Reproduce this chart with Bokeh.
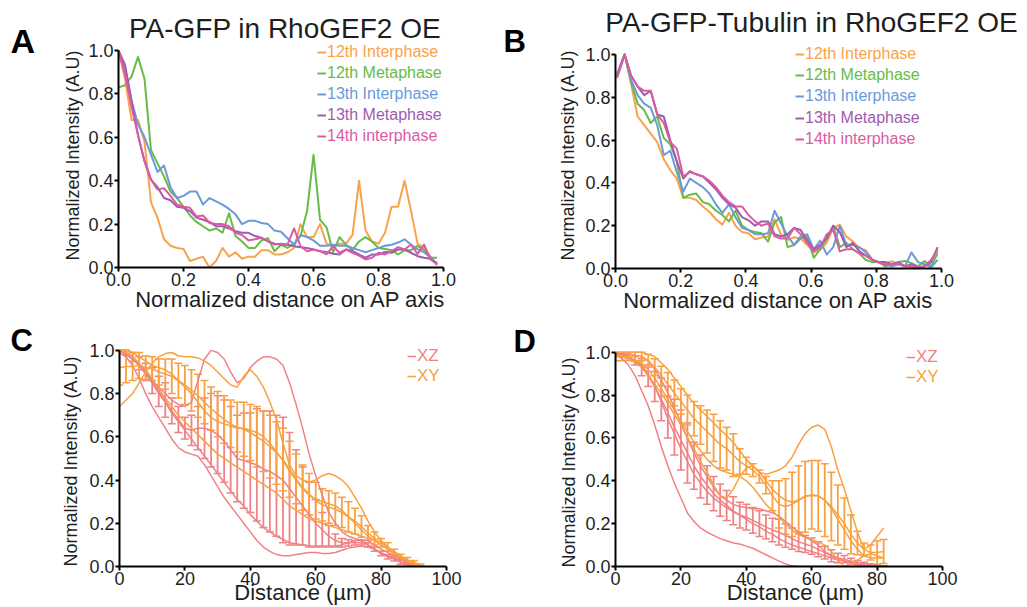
from bokeh.plotting import figure
from bokeh.models import (ColumnDataSource, Whisker, TeeHead, Legend, LegendItem, Label,
                          Range1d, FixedTicker, PrintfTickFormatter)
from bokeh.layouts import column, row
from bokeh.embed import file_html
from bokeh.resources import INLINE

FONT = "Liberation Sans"
TXT = "#1e1e1e"
YLABEL = "Normalized Intensity (A.U)"
XLABEL_AB = "Normalized distance on AP axis"
XLABEL_CD = "Distance (\u00b5m)"
TITLE_A = "PA-GFP in RhoGEF2 OE"
TITLE_B = "PA-GFP-Tubulin in RhoGEF2 OE"

# ---------------- Panel A data (normalized distance, step 0.02) ----------------
XA = [round(0.02 * i, 2) for i in range(50)]
A_12I = [1.0, 0.87, 0.68, 0.68, 0.58, 0.30, 0.23, 0.13, 0.10, 0.09,
         0.085, 0.03, 0.04, 0.05, 0.0, 0.03, 0.09, 0.05, 0.07, 0.04,
         0.05, 0.05, 0.08, 0.08, 0.06, 0.06, 0.07, 0.09, 0.20, 0.14,
         0.14, 0.20, 0.11, 0.10, 0.11, 0.11, 0.15, 0.40, 0.17, 0.12,
         0.11, 0.16, 0.28, 0.28, 0.40, 0.26, 0.11, 0.09, 0.05, 0.01]
A_12M = [0.83, 0.84, 0.88, 0.97, 0.87, 0.54, 0.48, 0.42, 0.35, 0.32,
         0.28, 0.24, 0.21, 0.19, 0.17, 0.18, 0.16, 0.25, 0.145, 0.12,
         0.09, 0.09, 0.125, 0.135, 0.075, 0.105, 0.09, 0.11, 0.145, 0.26,
         0.52, 0.22, 0.185, 0.07, 0.14, 0.105, 0.08, 0.12, 0.14, 0.12,
         0.09, 0.085, 0.08, 0.06, 0.08, 0.08, 0.10, 0.08, 0.045, 0.045]
A_13I = [1.0, 0.91, 0.77, 0.66, 0.60, 0.52, 0.44, 0.47, 0.37, 0.32,
         0.33, 0.35, 0.35, 0.29, 0.32, 0.305, 0.29, 0.27, 0.245, 0.20,
         0.215, 0.215, 0.205, 0.20, 0.17, 0.165, 0.135, 0.105, 0.15, 0.14,
         0.125, 0.10, 0.10, 0.105, 0.10, 0.10, 0.09, 0.08, 0.07, 0.08,
         0.09, 0.10, 0.105, 0.115, 0.13, 0.105, 0.085, 0.07, 0.045, 0.015]
A_13M = [1.0, 0.935, 0.77, 0.61, 0.49, 0.405, 0.37, 0.32, 0.31, 0.28,
         0.275, 0.26, 0.23, 0.22, 0.21, 0.19, 0.19, 0.18, 0.167, 0.16,
         0.16, 0.145, 0.137, 0.12, 0.11, 0.105, 0.105, 0.098, 0.093, 0.09,
         0.083, 0.075, 0.072, 0.063, 0.06, 0.083, 0.075, 0.06, 0.045, 0.06,
         0.06, 0.072, 0.068, 0.083, 0.083, 0.068, 0.052, 0.045, 0.04, 0.02]
A_14I = [1.0, 0.89, 0.74, 0.61, 0.49, 0.405, 0.36, 0.365, 0.33, 0.29,
         0.28, 0.275, 0.235, 0.24, 0.205, 0.20, 0.20, 0.19, 0.16, 0.15,
         0.125, 0.13, 0.137, 0.12, 0.106, 0.11, 0.106, 0.18, 0.098, 0.075,
         0.083, 0.075, 0.06, 0.098, 0.068, 0.083, 0.068, 0.055, 0.037, 0.045,
         0.068, 0.06, 0.075, 0.094, 0.083, 0.106, 0.063, 0.106, 0.037, 0.015]

# ---------------- Panel B data ----------------
XB = [0.005] + [round(0.028 + 0.02 * k, 3) for k in range(49)]
B_12I = [0.90, 1.0, 0.86, 0.71, 0.67, 0.63, 0.59, 0.51, 0.46, 0.42,
         0.33, 0.33, 0.32, 0.29, 0.265, 0.23, 0.205, 0.26, 0.20, 0.17,
         0.165, 0.137, 0.145, 0.15, 0.23, 0.157, 0.134, 0.146, 0.14, 0.11,
         0.075, 0.088, 0.12, 0.19, 0.205, 0.15, 0.126, 0.095, 0.085, 0.042,
         0.026, 0.026, 0.034, 0.02, 0.012, 0.005, 0.0, 0.01, 0.035, 0.08]
B_12M = [0.90, 1.0, 0.87, 0.77, 0.74, 0.68, 0.71, 0.61, 0.58, 0.50,
         0.33, 0.345, 0.35, 0.31, 0.30, 0.27, 0.25, 0.22, 0.27, 0.20,
         0.18, 0.17, 0.165, 0.125, 0.215, 0.24, 0.10, 0.11, 0.14, 0.15,
         0.05, 0.09, 0.14, 0.20, 0.10, 0.12, 0.09, 0.07, 0.04, 0.03,
         0.03, 0.01, 0.02, 0.03, 0.035, 0.025, 0.01, 0.035, 0.01, 0.07]
B_13I = [0.91, 1.0, 0.88, 0.81, 0.77, 0.75, 0.67, 0.53, 0.55, 0.45,
         0.36, 0.42, 0.40, 0.38, 0.35, 0.30, 0.26, 0.30, 0.24, 0.19,
         0.18, 0.16, 0.16, 0.165, 0.27, 0.21, 0.15, 0.11, 0.15, 0.16,
         0.09, 0.13, 0.065, 0.10, 0.20, 0.11, 0.11, 0.10, 0.075, 0.04,
         0.03, 0.02, 0.01, 0.02, 0.01, 0.075, 0.03, 0.02, 0.005, 0.04]
B_13M = [0.90, 1.0, 0.90, 0.85, 0.81, 0.83, 0.72, 0.71, 0.60, 0.50,
         0.42, 0.455, 0.44, 0.43, 0.40, 0.37, 0.33, 0.30, 0.285, 0.24,
         0.225, 0.20, 0.22, 0.22, 0.16, 0.15, 0.16, 0.19, 0.18, 0.13,
         0.09, 0.11, 0.14, 0.20, 0.17, 0.10, 0.12, 0.08, 0.06, 0.04,
         0.03, 0.03, 0.02, 0.03, 0.01, 0.02, 0.005, 0.01, 0.03, 0.10]
B_14I = [0.89, 1.0, 0.90, 0.85, 0.83, 0.83, 0.72, 0.68, 0.59, 0.56,
         0.43, 0.45, 0.44, 0.43, 0.41, 0.38, 0.34, 0.31, 0.29, 0.29,
         0.25, 0.22, 0.20, 0.21, 0.15, 0.14, 0.14, 0.19, 0.16, 0.12,
         0.08, 0.10, 0.16, 0.18, 0.08, 0.09, 0.09, 0.07, 0.06, 0.04,
         0.03, 0.015, 0.02, 0.025, 0.01, 0.01, 0.005, 0.01, 0.04, 0.09]

SERIES_LABELS = ["12th Interphase", "12th Metaphase", "13th Interphase",
                 "13th Metaphase", "14th interphase"]
SERIES_COLORS = ["#F9A24B", "#66BC46", "#6A9AD9", "#A05BAE", "#DA5BA4"]

# ---------------- Panel C data (distance in um, step 2) ----------------
XC = list(range(0, 93, 2))
C_XZ_MEAN = [1.0, 0.99, 0.97, 0.94, 0.90, 0.86, 0.81, 0.77, 0.72, 0.68,
             0.64, 0.63, 0.64, 0.64, 0.63, 0.61, 0.58, 0.54, 0.50, 0.49,
             0.48, 0.47, 0.45, 0.44, 0.42, 0.40, 0.36, 0.32, 0.28, 0.24,
             0.20, 0.17, 0.14, 0.12, 0.11, 0.11, 0.11, 0.11, 0.10, 0.08,
             0.06, 0.045, 0.035, 0.02, 0.01, 0.005, 0.0]
C_XZ_ERR = [0.0, 0.01, 0.02, 0.03, 0.04, 0.06, 0.07, 0.08, 0.06, 0.06,
            0.05, 0.07, 0.10, 0.14, 0.17, 0.18, 0.19, 0.20, 0.20, 0.22,
            0.23, 0.26, 0.27, 0.28, 0.28, 0.29, 0.26, 0.22, 0.18, 0.15,
            0.11, 0.08, 0.05, 0.03, 0.02, 0.015, 0.01, 0.01, 0.01, 0.01,
            0.01, 0.01, 0.01, 0.01, 0.005, 0.003, 0.0]
C_XY_MEAN = [0.92, 0.925, 0.925, 0.93, 0.92, 0.915, 0.90, 0.89, 0.88, 0.86,
             0.84, 0.815, 0.79, 0.76, 0.73, 0.705, 0.68, 0.66, 0.645, 0.635,
             0.62, 0.60, 0.58, 0.555, 0.525, 0.495, 0.45, 0.405, 0.365, 0.335,
             0.305, 0.285, 0.275, 0.265, 0.25, 0.23, 0.21, 0.185, 0.155, 0.13,
             0.11, 0.09, 0.065, 0.045, 0.03, 0.02, 0.008]
C_XY_ERR = [0.08, 0.075, 0.065, 0.06, 0.055, 0.055, 0.06, 0.07, 0.08, 0.08,
            0.09, 0.095, 0.10, 0.10, 0.10, 0.105, 0.11, 0.11, 0.115, 0.125,
            0.13, 0.14, 0.14, 0.145, 0.145, 0.145, 0.13, 0.115, 0.105, 0.095,
            0.085, 0.075, 0.075, 0.075, 0.07, 0.07, 0.06, 0.05, 0.035, 0.03,
            0.02, 0.02, 0.015, 0.012, 0.012, 0.008, 0.004]
C_XZ_T1 = [1.0, 0.98, 0.96, 0.93, 0.90, 0.86, 0.83, 0.80, 0.77, 0.75,
           0.74, 0.76, 0.86, 0.96, 1.0, 0.99, 0.96, 0.90, 0.85, 0.87,
           0.92, 0.95, 0.97, 0.97, 0.96, 0.93, 0.85, 0.75, 0.64, 0.52,
           0.42, 0.33, 0.25, 0.20, 0.16, 0.14, 0.13, 0.12, 0.10, 0.08,
           0.06, 0.05, 0.04, 0.03, 0.02, 0.01, 0.0]
C_XZ_T2 = [0.99, 0.97, 0.93, 0.87, 0.80, 0.74, 0.69, 0.64, 0.59, 0.55,
           0.53, 0.52, 0.51, 0.47, 0.42, 0.37, 0.32, 0.28, 0.24, 0.20,
           0.16, 0.12, 0.09, 0.07, 0.055, 0.05, 0.05, 0.055, 0.06, 0.065,
           0.065, 0.06, 0.06, 0.065, 0.075, 0.085, 0.09, 0.095, 0.09, 0.08,
           0.065, 0.05, 0.035, 0.02, 0.01, 0.005, 0.0]
C_XZ_T3 = [1.0, 0.98, 0.96, 0.93, 0.89, 0.85, 0.80, 0.76, 0.71, 0.67,
           0.63, 0.59, 0.55, 0.51, 0.47, 0.43, 0.39, 0.35, 0.31, 0.28,
           0.24, 0.21, 0.18, 0.16, 0.14, 0.125, 0.11, 0.105, 0.10, 0.095,
           0.095, 0.095, 0.095, 0.095, 0.10, 0.11, 0.12, 0.125, 0.12, 0.10,
           0.08, 0.065, 0.05, 0.035, 0.02, 0.01, 0.0]
C_XY_T1 = [0.74, 0.77, 0.80, 0.85, 0.90, 0.94, 0.97, 0.985, 0.99, 0.975,
           0.97, 0.97, 0.965, 0.95, 0.93, 0.90, 0.87, 0.84, 0.83, 0.88,
           0.91, 0.88, 0.83, 0.76, 0.68, 0.57, 0.47, 0.42, 0.40, 0.39,
           0.40, 0.42, 0.43, 0.42, 0.40, 0.37, 0.32, 0.27, 0.21, 0.16,
           0.12, 0.09, 0.07, 0.05, 0.03, 0.015, 0.005]
C_XY_T2 = [1.0, 1.0, 0.99, 0.97, 0.95, 0.93, 0.92, 0.91, 0.89, 0.86,
           0.83, 0.80, 0.76, 0.72, 0.69, 0.67, 0.66, 0.65, 0.64, 0.64,
           0.63, 0.62, 0.60, 0.57, 0.53, 0.49, 0.44, 0.40, 0.36, 0.33,
           0.31, 0.30, 0.29, 0.28, 0.26, 0.23, 0.20, 0.17, 0.14, 0.12,
           0.10, 0.08, 0.06, 0.04, 0.025, 0.012, 0.005]
C_XY_T3 = [1.0, 0.99, 0.97, 0.94, 0.91, 0.87, 0.82, 0.78, 0.74, 0.70,
           0.67, 0.64, 0.61, 0.58, 0.55, 0.52, 0.50, 0.48, 0.46, 0.44,
           0.42, 0.40, 0.38, 0.36, 0.34, 0.31, 0.28, 0.26, 0.24, 0.22,
           0.21, 0.20, 0.19, 0.18, 0.17, 0.16, 0.15, 0.14, 0.13, 0.12,
           0.10, 0.08, 0.06, 0.04, 0.025, 0.01, 0.0]

# ---------------- Panel D data (distance in um, step 2) ----------------
XD = list(range(0, 83, 2))
D_XZ_MEAN = [0.99, 0.99, 0.98, 0.96, 0.93, 0.89, 0.84, 0.78, 0.72, 0.65,
             0.59, 0.53, 0.47, 0.42, 0.38, 0.34, 0.31, 0.285, 0.26, 0.24,
             0.23, 0.215, 0.20, 0.185, 0.17, 0.16, 0.145, 0.13, 0.115, 0.105,
             0.095, 0.08, 0.065, 0.05, 0.04, 0.034, 0.025, 0.018, 0.012, 0.008,
             0.005, 0.002]
D_XZ_ERR = [0.0, 0.005, 0.01, 0.02, 0.04, 0.05, 0.07, 0.10, 0.12, 0.13,
            0.14, 0.14, 0.11, 0.10, 0.09, 0.08, 0.075, 0.07, 0.065, 0.06,
            0.06, 0.06, 0.06, 0.055, 0.055, 0.06, 0.055, 0.05, 0.045, 0.04,
            0.038, 0.035, 0.03, 0.028, 0.022, 0.017, 0.013, 0.01, 0.008, 0.005,
            0.003, 0.002]
D_XY_MEAN = [0.98, 0.98, 0.98, 0.98, 0.98, 0.96, 0.93, 0.89, 0.85, 0.81,
             0.77, 0.73, 0.69, 0.66, 0.63, 0.60, 0.57, 0.55, 0.52, 0.49,
             0.47, 0.45, 0.42, 0.38, 0.33, 0.29, 0.28, 0.29, 0.31, 0.325,
             0.335, 0.33, 0.31, 0.28, 0.24, 0.20, 0.15, 0.11, 0.08, 0.065,
             0.065, 0.07]
D_XY_ERR = [0.02, 0.02, 0.02, 0.02, 0.02, 0.03, 0.04, 0.045, 0.055, 0.06,
            0.06, 0.07, 0.08, 0.09, 0.10, 0.11, 0.11, 0.10, 0.10, 0.06,
            0.04, 0.03, 0.03, 0.04, 0.07, 0.11, 0.13, 0.15, 0.16, 0.165,
            0.16, 0.165, 0.17, 0.16, 0.14, 0.12, 0.09, 0.055, 0.03, 0.035,
            0.055, 0.056]
D_XZ_T1 = [0.99, 0.97, 0.94, 0.89, 0.82, 0.75, 0.66, 0.56, 0.47, 0.39,
           0.32, 0.25, 0.21, 0.18, 0.16, 0.145, 0.13, 0.12, 0.11, 0.105,
           0.095, 0.085, 0.07, 0.055, 0.04, 0.025, 0.012, 0.003, 0.0, 0.0,
           0.0, 0.0, 0.0, 0.0, 0.0, 0.0, 0.0, 0.0, 0.0, 0.0,
           0.0, 0.0]
D_XZ_T2 = [0.99, 0.99, 0.98, 0.96, 0.94, 0.90, 0.84, 0.77, 0.69, 0.62,
           0.55, 0.49, 0.43, 0.39, 0.35, 0.32, 0.295, 0.275, 0.255, 0.24,
           0.22, 0.20, 0.185, 0.165, 0.15, 0.13, 0.115, 0.10, 0.09, 0.08,
           0.07, 0.06, 0.05, 0.04, 0.03, 0.026, 0.018, 0.012, 0.008, 0.005,
           0.003, 0.0]
D_XZ_T3 = [0.99, 0.99, 0.99, 0.985, 0.98, 0.96, 0.92, 0.87, 0.81, 0.74,
           0.67, 0.60, 0.53, 0.47, 0.42, 0.37, 0.33, 0.31, 0.29, 0.28,
           0.275, 0.27, 0.27, 0.26, 0.25, 0.235, 0.21, 0.185, 0.16, 0.14,
           0.12, 0.10, 0.07, 0.05, 0.035, 0.026, 0.018, 0.01, 0.003, 0.0,
           0.0, 0.0]
D_XY_T1 = [0.99, 0.98, 0.97, 0.95, 0.93, 0.89, 0.85, 0.81, 0.76, 0.71,
           0.66, 0.60, 0.55, 0.49, 0.44, 0.38, 0.33, 0.32, 0.36, 0.42,
           0.46, 0.47, 0.44, 0.43, 0.44, 0.45, 0.47, 0.51, 0.57, 0.62,
           0.65, 0.66, 0.64, 0.56, 0.45, 0.36, 0.26, 0.16, 0.08, 0.10,
           0.14, 0.18]
D_XY_T2 = [1.0, 1.0, 1.0, 1.0, 1.0, 0.99, 0.98, 0.95, 0.92, 0.88,
           0.84, 0.80, 0.76, 0.73, 0.70, 0.67, 0.64, 0.61, 0.58, 0.54,
           0.50, 0.47, 0.44, 0.40, 0.36, 0.33, 0.31, 0.30, 0.31, 0.33,
           0.33, 0.33, 0.31, 0.27, 0.22, 0.17, 0.12, 0.08, 0.05, 0.04,
           0.04, 0.04]
D_XY_T3 = [0.98, 0.98, 0.97, 0.96, 0.95, 0.92, 0.88, 0.83, 0.78, 0.73,
           0.68, 0.63, 0.58, 0.54, 0.50, 0.47, 0.45, 0.44, 0.43, 0.42,
           0.40, 0.37, 0.33, 0.29, 0.26, 0.23, 0.20, 0.17, 0.15, 0.135,
           0.125, 0.115, 0.10, 0.07, 0.03, 0.0, 0.01, 0.03, 0.05, 0.06,
           0.05, 0.04]

XZ_COLOR = "#F08286"
XY_COLOR = "#F9A140"
TICKS_A = [0, 0.2, 0.4, 0.6, 0.8, 1.0]
TICKS_C = [0, 20, 40, 60, 80, 100]


def no_align(p):
    if "frame_align" in p.properties():
        p.frame_align = False


def make_fig(w, h, bl, br, bb, xmax, ymax, xticks, xbound, fmt, xlabel, xl_standoff):
    p = figure(width=w, height=h, output_backend="svg", toolbar_location=None,
               x_range=Range1d(0, xmax), y_range=Range1d(0, ymax),
               min_border_left=bl, min_border_right=br,
               min_border_top=0, min_border_bottom=bb)
    no_align(p)
    p.outline_line_color = None
    p.grid.visible = False
    p.background_fill_color = "white"
    p.border_fill_color = "white"
    for ax in (p.xaxis[0], p.yaxis[0]):
        ax.axis_line_width = 2
        ax.axis_line_color = "black"
        ax.major_tick_line_width = 2
        ax.major_tick_line_color = "black"
        ax.major_tick_in = 0
        ax.major_tick_out = 4
        ax.minor_tick_line_color = None
        ax.major_label_text_font = FONT
        ax.major_label_text_font_size = "18px"
        ax.major_label_text_color = TXT
        ax.major_label_standoff = 1
        ax.axis_label_text_font = FONT
        ax.axis_label_text_font_style = "normal"
        ax.axis_label_text_color = TXT
    p.xaxis.ticker = FixedTicker(ticks=xticks)
    p.xaxis.formatter = PrintfTickFormatter(format=fmt)
    p.xaxis.bounds = (0, xbound)
    p.xaxis.axis_label = xlabel
    p.xaxis.axis_label_text_font_size = "22px"
    p.xaxis.axis_label_standoff = xl_standoff
    p.yaxis.ticker = FixedTicker(ticks=[0, 0.2, 0.4, 0.6, 0.8, 1.0])
    p.yaxis.formatter = PrintfTickFormatter(format="%.1f")
    p.yaxis.bounds = (0, 1)
    return p


def text_fig(w, h, items):
    """Axis-less figure holding free text; data units = pixels from its top-left corner.
    Each text is anchored at the middle of its line box."""
    p = figure(width=w, height=h, output_backend="svg", toolbar_location=None,
               x_range=Range1d(0, w), y_range=Range1d(h, 0),
               x_axis_type=None, y_axis_type=None,
               min_border_left=0, min_border_right=0, min_border_top=0, min_border_bottom=0)
    no_align(p)
    p.outline_line_color = None
    p.grid.visible = False
    p.background_fill_color = "white"
    p.border_fill_color = "white"
    for text, x, y, size, bold, align, angle in items:
        p.add_layout(Label(x=x, y=y, text=text, text_font=FONT, text_font_size=size,
                           text_font_style="bold" if bold else "normal",
                           text_color="black" if bold else TXT,
                           angle=angle, angle_units="deg",
                           text_align=align, text_baseline="middle"))
    return p


def add_legend(p, renderer, label, color, vx, vy, size):
    lg = Legend(items=[LegendItem(label=label, renderers=[renderer])],
                location=(vx, vy), orientation="vertical",
                padding=0, margin=0, spacing=0,
                glyph_width=9, glyph_height=20, label_height=20, label_standoff=1,
                label_text_font=FONT, label_text_font_size=size,
                label_text_color=color, border_line_color=None,
                background_fill_alpha=0)
    p.add_layout(lg)


def add_errbars(p, xs, mean, err, color):
    src = ColumnDataSource(dict(x=xs,
                                upper=[m + e for m, e in zip(mean, err)],
                                lower=[m - e for m, e in zip(mean, err)]))
    w = Whisker(source=src, base="x", upper="upper", lower="lower",
                line_color=color, line_width=1.8, level="underlay",
                upper_head=TeeHead(size=8, line_color=color, line_width=1.5),
                lower_head=TeeHead(size=8, line_color=color, line_width=1.5))
    p.add_layout(w)


def panel_cd(p, xs, xz_mean, xz_err, xz_traces, xy_mean, xy_err, xy_traces):
    add_errbars(p, xs, xz_mean, xz_err, XZ_COLOR)
    add_errbars(p, xs, xy_mean, xy_err, XY_COLOR)
    r_xz = p.line(xs, xz_mean, line_color=XZ_COLOR, line_width=1.5)
    for t in xz_traces:
        p.line(xs, t, line_color=XZ_COLOR, line_width=1.5)
    r_xy = p.line(xs, xy_mean, line_color=XY_COLOR, line_width=1.5)
    for t in xy_traces:
        p.line(xs, t, line_color=XY_COLOR, line_width=1.5)
    return r_xz, r_xy


# ---------- Panel A (page x 0..500, y 0..315); frame reaches the top so the title fits in it ----------
pA = make_fig(415, 315, 32, 38, 48, 345 / 326, 267 / 217, TICKS_A, 1.0, "%.1f", XLABEL_AB, -2)
rA = [pA.line(XA, ys, line_color=c, line_width=2, line_join="round")
      for ys, c in zip([A_12I, A_12M, A_13I, A_13M, A_14I], SERIES_COLORS)]
for k, (r, lab, c) in enumerate(zip(rA, SERIES_LABELS, SERIES_COLORS)):
    add_legend(pA, r, lab, c, 199, [205, 184, 163, 142, 121][k], "16px")
pA.add_layout(Label(x=(284 - 117) / 326, y=(267 - 28) / 217, text=TITLE_A,
                    text_font=FONT, text_font_size="28px", text_color=TXT,
                    text_align="center", text_baseline="middle"))
sideA = text_fig(85, 315, [("A", 10, 40, "34px", True, "left", 0),
                           (YLABEL, 72, 155, "18px", False, "center", 90)])

# ---------- Panel B (page x 500..1027, y 0..315) ----------
pB = make_fig(446, 269, 34, 86, 45, 1.0, 224 / 216, TICKS_A, 1.0, "%.1f", XLABEL_AB, -2)
rB = [pB.line(XB, ys, line_color=c, line_width=2, line_join="round")
      for ys, c in zip([B_12I, B_12M, B_13I, B_13M, B_14I], SERIES_COLORS)]
for k, (r, lab, c) in enumerate(zip(rB, SERIES_LABELS, SERIES_COLORS)):
    add_legend(pB, r, lab, c, 180, [204, 183, 162, 140, 119][k], "16px")
sideB = text_fig(81, 315, [("B", 3, 41, "31px", True, "left", 0),
                           (YLABEL, 67, 155, "18px", False, "center", 90)])
headB = text_fig(446, 46, [(TITLE_B, 230, 22, "28px", False, "center", 0)])

# ---------- Panel C (page x 0..500, y 315..607) ----------
pC = make_fig(416, 292, 35, 14, 40, 367 / 3.27, 252 / 217, TICKS_C, 100, "%d", XLABEL_CD, -8)
r_xz, r_xy = panel_cd(pC, XC, C_XZ_MEAN, C_XZ_ERR, [C_XZ_T1, C_XZ_T2, C_XZ_T3],
                      C_XY_MEAN, C_XY_ERR, [C_XY_T1, C_XY_T2, C_XY_T3])
add_legend(pC, r_xz, "XZ", XZ_COLOR, 288, 200, "17px")
add_legend(pC, r_xy, "XY", XY_COLOR, 288, 180, "17px")
sideC = text_fig(84, 292, [("C", 10, 25, "31px", True, "left", 0),
                           (YLABEL, 70, 146, "18px", False, "center", 90)])

# ---------- Panel D (page x 500..1027, y 315..607) ----------
pD = make_fig(446, 292, 34, 52, 39, 360 / 3.27, 253 / 216, TICKS_C, 100, "%d", XLABEL_CD, -8)
r_xz, r_xy = panel_cd(pD, XD, D_XZ_MEAN, D_XZ_ERR, [D_XZ_T1, D_XZ_T2, D_XZ_T3],
                      D_XY_MEAN, D_XY_ERR, [D_XY_T1, D_XY_T2, D_XY_T3])
add_legend(pD, r_xz, "XZ", XZ_COLOR, 291, 199, "17px")
add_legend(pD, r_xy, "XY", XY_COLOR, 291, 179, "17px")
sideD = text_fig(81, 292, [("D", 13, 26, "31px", True, "left", 0),
                           (YLABEL, 68, 147, "18px", False, "center", 90)])

layout = column(
    row(sideA, pA, sideB, column(headB, pB)),
    row(sideC, pC, sideD, pD),
)
open("out.html", "w").write(file_html(layout, INLINE))
